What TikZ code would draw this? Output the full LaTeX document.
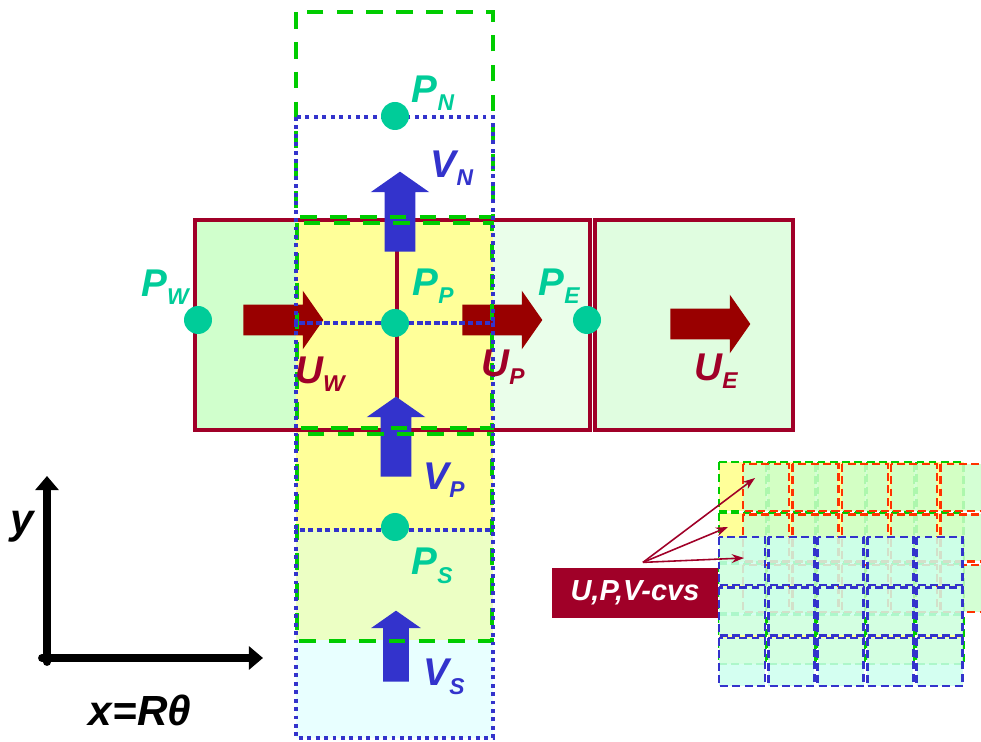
\documentclass[tikz,border=0pt]{standalone}
\usepackage{fontspec}
\setmainfont{Liberation Sans}
\usepackage{tikz}
\usetikzlibrary{shapes.arrows, positioning, arrows.meta, calc}

\definecolor{rojoU}{RGB}{160,0,40}
\definecolor{flechaU}{RGB}{153,0,0}
\definecolor{azulV}{RGB}{51,51,204}
\definecolor{verdeP}{RGB}{0,204,0}
\definecolor{turquesa}{RGB}{0,204,153}
\definecolor{amarillo}{RGB}{255,255,153}
\definecolor{verdeW}{RGB}{208,255,204}
\definecolor{verdeE}{RGB}{224,253,224}
\definecolor{verdeclaro}{RGB}{234,254,234}
\definecolor{amarilloS}{RGB}{236,255,196}
\definecolor{cianS}{RGB}{232,255,255}
\definecolor{rojomini}{RGB}{255,51,0}
\definecolor{cianmini}{RGB}{204,255,238}
\definecolor{verdemini}{RGB}{204,255,204}

\newcommand{\subi}[1]{\raisebox{-0.22em}{\fontsize{13}{14}\selectfont #1}}

\tikzset{
  ucell/.style={draw=rojoU, line width=2.3pt},
  pcell/.style={draw=verdeP, line width=2pt, dash pattern=on 9.5pt off 7.5pt},
  vcell/.style={draw=azulV, line width=2.2pt, dash pattern=on 2.2pt off 2.6pt},
  nodo/.style={circle, fill=turquesa, minimum size=0.56cm, inner sep=0pt},
  flecha/.style={single arrow, single arrow head extend=0.28cm, single arrow tip angle=110, minimum height=1.6cm, minimum width=0pt, inner xsep=0pt, inner ysep=0.3cm, anchor=tail, draw=none},
  etiqueta/.style={font=\fontsize{22}{24}\selectfont\bfseries\itshape, inner sep=0pt}
}

\begin{document}
\begin{tikzpicture}[
            x=0.02cm, y=-0.02cm,
            pmini/.style={draw=verdeP, fill=amarillo, line width=1.4pt, dash pattern=on 4.5pt off 2.5pt},
            umini/.style={draw=rojomini, fill=verdemini, fill opacity=0.85, line width=1.4pt, dash pattern=on 4.5pt off 2.5pt},
            vmini/.style={draw=azulV, fill=cianmini, fill opacity=0.85, line width=1.5pt, dash pattern=on 4.5pt off 2.5pt},
            eje/.style={line width=4.5pt, line cap=round, -{Triangle[length=8pt,width=13pt]}},
            ejetexto/.style={font=\fontsize{24}{26}\selectfont\bfseries\itshape, inner sep=0pt},
            cajacvs/.style={rectangle, fill=rojoU, text=white, minimum width=3.34cm, minimum height=1cm, font=\fontsize{16.5}{18}\selectfont\bfseries\itshape},
            flechacvs/.style={draw=rojoU, line width=0.9pt, -{Stealth[length=7pt,width=5pt]}}
        ]
            \useasboundingbox (0,0) rectangle (981,742);

            % Rellenos de las celdas
            \fill[verdeW] (195,220) rectangle (397,430);
            \fill[verdeclaro] (397,220) rectangle (590,430);
            \fill[verdeE] (595,220) rectangle (793,430);
            \fill[amarillo] (296,220) rectangle (493,530);
            \fill[amarilloS] (296,530) rectangle (493,640);
            \fill[cianS] (296,640) rectangle (493,738);

            % Celdas U
            \draw[ucell] (195,220) rectangle (397,430);
            \draw[ucell] (397,220) rectangle (590,430);
            \draw[ucell] (595,220) rectangle (793,430);

            % Flechas de velocidad
            \node (uW) [flecha, fill=flechaU] at (243,320) {};
            \node (uP) [flecha, fill=flechaU] at (462,320) {};
            \node (uE) [flecha, fill=flechaU] at (670,324) {};
            \node (vN) [flecha, fill=azulV, rotate=90] at (400,252) {};
            \node (vP) [flecha, fill=azulV, rotate=90] at (396,477) {};
            \node (vS) [flecha, fill=azulV, rotate=90, minimum height=1.42cm, inner ysep=0.25cm, single arrow head extend=0.24cm] at (396,682) {};

            % Celdas P
            \draw[pcell] (296,12) rectangle (493,217);
            \draw[pcell] (297,223) rectangle (492,428);
            \draw[pcell] (297,434) rectangle (492,641);

            % Celdas V
            \draw[vcell] (296,117) rectangle (493,323);
            \draw[vcell] (296,323) rectangle (493,530);
            \draw[vcell] (296,530) rectangle (493,738);

            % Nodos de presion
            \node (pN) [nodo] at (395,116) {};
            \node (pW) [nodo] at (198,320) {};
            \node (pP) [nodo] at (395,323) {};
            \node (pE) [nodo] at (587,320) {};
            \node (pS) [nodo] at (395,527) {};

            % Etiquetas
            \node (lPN) [etiqueta, text=turquesa] at (433,93) {P\subi{N}};
            \node (lPW) [etiqueta, text=turquesa] at (165,287) {P\subi{W}};
            \node (lPP) [etiqueta, text=turquesa] at (433,286) {P\subi{P}};
            \node (lPE) [etiqueta, text=turquesa] at (559,286) {P\subi{E}};
            \node (lPS) [etiqueta, text=turquesa] at (432,566) {P\subi{S}};
            \node (lVN) [etiqueta, text=azulV] at (452,168) {V\subi{N}};
            \node (lVP) [etiqueta, text=azulV] at (444,480) {V\subi{P}};
            \node (lVS) [etiqueta, text=azulV] at (444,677) {V\subi{S}};
            \node (lUW) [etiqueta, text=rojoU] at (320,374) {U\subi{W}};
            \node (lUP) [etiqueta, text=rojoU] at (503,367) {U\subi{P}};
            \node (lUE) [etiqueta, text=rojoU] at (716,371) {U\subi{E}};

            % Ejes
            \coordinate (ejeO) at (47,662);
            \coordinate (ejeY) at (47,476);
            \coordinate (ejeI) at (42,658);
            \coordinate (ejeX) at (263,658);
            \draw[eje] (ejeO) -- (ejeY);
            \draw[eje] (ejeI) -- (ejeX);
            \node (ly) [ejetexto] at (22,527) {y};
            \node (lx) [ejetexto] at (140,710) {x=Rθ};

            % Rejilla en miniatura
            \begin{scope}
                \clip (700,450) rectangle (981,700);
                \foreach \i in {0,...,4} \foreach \j in {0,...,3}
                    \draw[pmini] ({719+49.4*\i},{462+51*\j}) rectangle ++(47,49);
                \foreach \i in {0,...,5} \foreach \j in {0,...,2}
                    \draw[umini] ({743+49.4*\i},{464+50.5*\j}) rectangle ++(46,47);
                \foreach \i in {0,...,4} \foreach \j in {0,...,2}
                    \draw[vmini] ({719+49.4*\i},{537+50.5*\j}) rectangle ++(46,48);
            \end{scope}

            % Etiqueta de los volumenes de control
            \node (cvs) [cajacvs] at (635,593) {U,P,V-cvs};
            \coordinate (cvU) at (755,478);
            \coordinate (cvP) at (728,527);
            \coordinate (cvV) at (744,558);
            \foreach \c in {cvU,cvP,cvV}
                \draw[flechacvs] ([xshift=4.5pt,yshift=3pt]cvs.north) -- (\c);

        \end{tikzpicture}
\end{document}
